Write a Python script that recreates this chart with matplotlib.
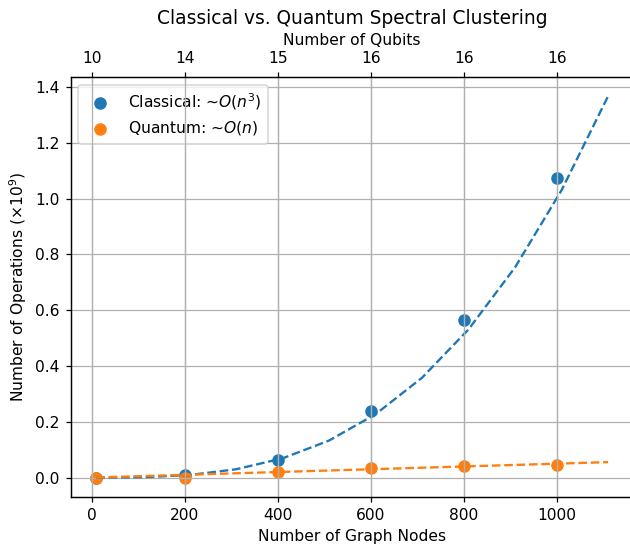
import matplotlib
matplotlib.use('Agg')
import matplotlib.pyplot as plt

# measured points
nodes = [10, 200, 400, 600, 800, 1000]
classical_ops = [0.000001, 0.010, 0.064, 0.239, 0.566, 1.073]
quantum_ops = [0.0, 0.0, 0.021, 0.036, 0.040, 0.047]
qubit_labels = ['10', '14', '15', '16', '16', '16']

# trend curves
fit_nodes = [10, 110, 210, 310, 410, 510, 610, 710, 810, 910, 1010, 1110]
classical_fit = [0.000001, 0.0013, 0.0093, 0.0298, 0.0689, 0.1327,
                 0.2270, 0.3579, 0.5314, 0.7536, 1.0303, 1.3676]
quantum_fit = [0.0005, 0.0055, 0.0105, 0.0155, 0.0205, 0.0255,
               0.0305, 0.0355, 0.0405, 0.0455, 0.0505, 0.0555]

fig = plt.figure(figsize=(630 / 112, 546 / 112), dpi=112)
ax = fig.add_axes([0.1122, 0.0903, 0.8937, 0.7687])

ax.scatter(nodes, classical_ops, s=50, color='tab:blue', label=r'Classical: ~$O(n^3)$')
ax.scatter(nodes, quantum_ops, s=50, color='tab:orange', label=r'Quantum: ~$O(n)$')
ax.plot(fit_nodes, classical_fit, '--', color='tab:blue')
ax.plot(fit_nodes, quantum_fit, '--', color='tab:orange')

ax.set_xlabel('Number of Graph Nodes')
ax.set_ylabel(r'Number of Operations ($\times 10^9$)')
ax.set_xticks([0, 200, 400, 600, 800, 1000])
ax.set_xlim(-45, 1165)
ax.grid(True)
ax.legend(loc='upper left')

ax2 = ax.twiny()
ax2.set_xlim(ax.get_xlim())
ax2.set_xticks([0, 200, 400, 600, 800, 1000])
ax2.set_xticklabels(qubit_labels)
ax2.set_xlabel('Number of Qubits')
ax2.grid(True, axis='x')

ax.set_title('Classical vs. Quantum Spectral Clustering')

fig.savefig('out.png', dpi=112)
